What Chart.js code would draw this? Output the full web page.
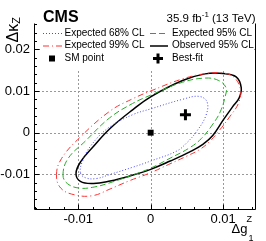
<!DOCTYPE html>
<html>
<head>
<meta charset="utf-8">
<script src="https://cdn.jsdelivr.net/npm/chart.js@4"></script>
<style>
  body { margin: 0; background: #fff; }
  canvas { display: block; }
</style>
</head>
<body>
<canvas id="myChart" width="266" height="241"></canvas>
<script>
// axis ranges and ticks
const xMin = -0.0161, xMax = 0.0144;
const yMin = -0.0183, yMax = 0.0263;
const xTickVals = [-0.01, 0, 0.01];
const xTickLabels = ['-0.01', '0', '0.01'];
const yTickVals = [-0.01, 0, 0.01, 0.02];
const yTickLabels = ['-0.01', '0', '0.01', '0.02'];
const gridX = [-0.01, 0, 0.01];
const gridY = [-0.01, 0, 0.01, 0.02];

// contours (dg1Z, dkZ)
const exp68X = [-0.0097, -0.0094, -0.0082, -0.0058, -0.0025, 0.0, 0.0044, 0.0067, 0.0078, 0.0076, 0.0063, 0.0050, 0.0036, 0.0, -0.0025, -0.0056, -0.0075, -0.0090];
const exp68Y = [-0.0096, -0.0068, -0.0030, 0.0012, 0.0043, 0.0057, 0.0080, 0.0087, 0.0073, 0.0040, 0.0002, -0.0024, -0.0044, -0.0068, -0.0083, -0.0100, -0.0110, -0.0108];

const exp95X = [-0.0121, -0.0114, -0.0090, -0.0057, -0.0025, 0.0, 0.0044, 0.0076, 0.0094, 0.0104, 0.0103, 0.0096, 0.0084, 0.0070, 0.0054, 0.0027, 0.0, -0.0029, -0.0056, -0.0077, -0.0098, -0.0115];
const exp95Y = [-0.0101, -0.0062, -0.0020, 0.0035, 0.0070, 0.0090, 0.0121, 0.0131, 0.0125, 0.0108, 0.0088, 0.0050, 0.0016, -0.0014, -0.0036, -0.0061, -0.0085, -0.0104, -0.0120, -0.0130, -0.0133, -0.0122];

const exp99X = [-0.0130, -0.0123, -0.0098, -0.0056, -0.0024, 0.0, 0.0044, 0.0077, 0.0100, 0.0115, 0.0124, 0.0121, 0.0109, 0.0095, 0.0082, 0.0068, 0.0050, 0.0025, 0.0, -0.0029, -0.0056, -0.0080, -0.0105, -0.0124];
const exp99Y = [-0.0101, -0.0062, -0.0012, 0.0052, 0.0082, 0.0100, 0.0129, 0.0142, 0.0143, 0.0133, 0.0103, 0.0070, 0.0038, 0.0006, -0.0020, -0.0040, -0.0056, -0.0076, -0.0096, -0.0115, -0.0135, -0.0151, -0.0149, -0.0133];

const obs95X = [-0.0103, -0.0096, -0.0080, -0.0056, -0.0024, 0.0, 0.0044, 0.0075, 0.0100, 0.0118, 0.0125, 0.0122, 0.0113, 0.0100, 0.0086, 0.0072, 0.0054, 0.0027, 0.0, -0.0029, -0.0056, -0.0079, -0.0097];
const obs95Y = [-0.0097, -0.0068, -0.0035, 0.0010, 0.0056, 0.0086, 0.0125, 0.0141, 0.0142, 0.0134, 0.0108, 0.0083, 0.0062, 0.0030, -0.0006, -0.0028, -0.0046, -0.0068, -0.0088, -0.0104, -0.0116, -0.0122, -0.0117];

const smPoint = [0, 0];
const bestFit = [0.0048, 0.0043];

const FONT = "'Liberation Sans', Arial, sans-serif";
const BLUE = 'rgb(70,70,255)', GREEN = 'rgb(40,170,40)', RED = 'rgb(255,50,50)';

function pts(xs, ys) {
  return xs.map((x, i) => ({ x: x, y: ys[i] }));
}

function contour(label, xs, ys, color, dash, width) {
  return {
    label: label,
    data: pts(xs, ys),
    showLine: true,
    closed: true,
    borderColor: color,
    borderDash: dash,
    borderWidth: width,
    pointRadius: 0,
    tension: 0.4,
    fill: false
  };
}

// close the contours as real loops
const loopPlugin = {
  id: 'loop',
  afterDatasetsUpdate(chart) {
    chart.data.datasets.forEach((d, i) => {
      if (d.closed) {
        const line = chart.getDatasetMeta(i).dataset;
        line._loop = true;
        line._fullLoop = true;
      }
    });
  }
};

// dashed grey grid
const gridPlugin = {
  id: 'grid',
  beforeDatasetsDraw(chart) {
    const { ctx, chartArea: a, scales: { x, y } } = chart;
    ctx.save();
    ctx.strokeStyle = '#999';
    ctx.lineWidth = 1;
    ctx.setLineDash([2, 2]);
    gridX.forEach(v => {
      const px = Math.round(x.getPixelForValue(v)) + 0.5;
      ctx.beginPath(); ctx.moveTo(px, a.top); ctx.lineTo(px, a.bottom); ctx.stroke();
    });
    gridY.forEach(v => {
      const py = Math.round(y.getPixelForValue(v)) + 0.5;
      ctx.beginPath(); ctx.moveTo(a.left, py); ctx.lineTo(a.right, py); ctx.stroke();
    });
    ctx.restore();
  }
};

// legend, frame, ticks, titles
const decoPlugin = {
  id: 'deco',
  afterDatasetsDraw(chart) {
    const { ctx, chartArea: a, scales: { x, y } } = chart;
    ctx.save();

    // legend box
    ctx.fillStyle = '#fff';
    ctx.fillRect(40, a.top - 1, 213, 71 - a.top + 1);

    const rows = [33, 45.5, 58.5];
    const c1 = [43, 62, 64.5], c2 = [150, 168, 172];
    function sym(col, row, color, dash, w) {
      ctx.save();
      ctx.strokeStyle = color; ctx.lineWidth = w; ctx.setLineDash(dash);
      ctx.beginPath(); ctx.moveTo(col[0], row + 0.5); ctx.lineTo(col[1], row + 0.5); ctx.stroke();
      ctx.restore();
    }
    sym(c1, rows[0], BLUE, [1, 2], 1);
    sym(c2, rows[0], GREEN, [6, 3], 1);
    sym(c1, rows[1], RED, [6, 3, 1, 3], 1);
    sym(c2, rows[1], '#000', [], 1.5);
    ctx.fillStyle = '#000';
    ctx.fillRect(49, rows[2] - 3, 6, 6);
    ctx.fillRect(153, rows[2] - 1.5, 10, 3);
    ctx.fillRect(156.5, rows[2] - 5, 3, 10);

    ctx.font = '10px ' + FONT;
    ctx.textBaseline = 'middle';
    ctx.textAlign = 'left';
    ctx.fillText('Expected 68% CL', c1[2], rows[0]);
    ctx.fillText('Expected 95% CL', c2[2], rows[0]);
    ctx.fillText('Expected 99% CL', c1[2], rows[1]);
    ctx.fillText('Observed 95% CL', c2[2], rows[1]);
    ctx.fillText('SM point', c1[2], rows[2]);
    ctx.fillText('Best-fit', c2[2], rows[2]);

    // frame
    const L = Math.round(a.left) + 0.5, R = Math.round(a.right) + 0.5;
    const T = Math.round(a.top) + 0.5, B = Math.round(a.bottom) + 0.5;
    ctx.strokeStyle = '#000';
    ctx.lineWidth = 1;
    ctx.setLineDash([]);
    ctx.beginPath();
    ctx.moveTo(L, T); ctx.lineTo(L, B); ctx.lineTo(R, B); ctx.lineTo(R, T);
    ctx.stroke();

    // ticks inside, minor every 0.002
    ctx.beginPath();
    for (let k = -8; k <= 7; k++) {
      const v = k * 0.002;
      if (v < xMin || v > xMax) continue;
      const px = Math.round(x.getPixelForValue(v)) + 0.5;
      const len = (k % 5 === 0) ? 5 : 2.5;
      ctx.moveTo(px, B); ctx.lineTo(px, B - len);
    }
    for (let k = -9; k <= 13; k++) {
      const v = k * 0.002;
      if (v < yMin || v > yMax) continue;
      const py = Math.round(y.getPixelForValue(v)) + 0.5;
      const len = (k % 5 === 0) ? 5 : 2.5;
      ctx.moveTo(L, py); ctx.lineTo(L + len, py);
    }
    ctx.stroke();

    // header
    ctx.textBaseline = 'alphabetic';
    ctx.font = 'bold 16px ' + FONT;
    ctx.fillText('CMS', 43, 22);

    const f1 = '11.5px ' + FONT, f2 = '8px ' + FONT;
    ctx.font = f1;
    const wA = ctx.measureText('35.9 fb').width;
    const wC = ctx.measureText(' (13 TeV)').width;
    ctx.font = f2;
    const wB = ctx.measureText('-1').width;
    let sx = 255.5 - (wA + wB + wC);
    ctx.font = f1; ctx.fillText('35.9 fb', sx, 22);
    ctx.font = f2; ctx.fillText('-1', sx + wA, 17);
    ctx.font = f1; ctx.fillText(' (13 TeV)', sx + wA + wB, 22);

    // y title, rotated
    ctx.save();
    ctx.translate(18, 17);
    ctx.rotate(-Math.PI / 2);
    ctx.textAlign = 'right';
    ctx.font = '11px ' + FONT;
    const wz = ctx.measureText('Z').width;
    ctx.fillText('Z', 0, 2);
    ctx.font = '16px ' + FONT;
    ctx.fillText('\u0394\u03ba', -wz, 0);
    ctx.restore();

    // x title
    ctx.textAlign = 'left';
    ctx.font = '13px ' + FONT;
    ctx.fillText('\u0394g', 231.5, 233);
    ctx.font = '9px ' + FONT;
    ctx.fillText('Z', 246.5, 222);
    ctx.fillText('1', 248.5, 241);

    ctx.restore();
  }
};

const ctx = document.getElementById('myChart');

new Chart(ctx, {
  type: 'scatter',
  data: {
    datasets: [
      contour('Expected 99% CL', exp99X, exp99Y, RED, [6, 3, 1, 3], 1),
      contour('Expected 95% CL', exp95X, exp95Y, GREEN, [6, 3], 1),
      contour('Expected 68% CL', exp68X, exp68Y, BLUE, [1, 2], 1),
      contour('Observed 95% CL', obs95X, obs95Y, '#000', [], 1.5),
      {
        label: 'SM point',
        data: [{ x: smPoint[0], y: smPoint[1] }],
        pointStyle: 'rect',
        pointRadius: 4.2,
        backgroundColor: '#000',
        borderWidth: 0
      },
      {
        label: 'Best-fit',
        data: [{ x: bestFit[0], y: bestFit[1] }],
        pointStyle: 'cross',
        pointRadius: 5.5,
        borderColor: '#000',
        borderWidth: 3
      }
    ]
  },
  options: {
    responsive: false,
    animation: false,
    devicePixelRatio: 1,
    layout: { padding: { top: 23, right: 11, left: 0, bottom: 0 } },
    plugins: { legend: { display: false }, tooltip: { enabled: false } },
    scales: {
      x: {
        type: 'linear',
        min: xMin, max: xMax,
        grid: { display: false, drawTicks: false },
        border: { display: false },
        afterBuildTicks: s => { s.ticks = xTickVals.map(v => ({ value: v })); },
        afterFit: s => { s.height = 32; },
        ticks: {
          callback: (v, i) => xTickLabels[i],
          font: { size: 13, family: FONT },
          color: '#000',
          padding: 3,
          maxRotation: 0,
          autoSkip: false
        }
      },
      y: {
        type: 'linear',
        min: yMin, max: yMax,
        grid: { display: false, drawTicks: false },
        border: { display: false },
        afterBuildTicks: s => { s.ticks = yTickVals.map(v => ({ value: v })); },
        afterFit: s => { s.width = 34; },
        ticks: {
          callback: (v, i) => yTickLabels[i],
          font: { size: 13, family: FONT },
          color: '#000',
          padding: 4,
          autoSkip: false
        }
      }
    }
  },
  plugins: [loopPlugin, gridPlugin, decoPlugin]
});
</script>
</body>
</html>
